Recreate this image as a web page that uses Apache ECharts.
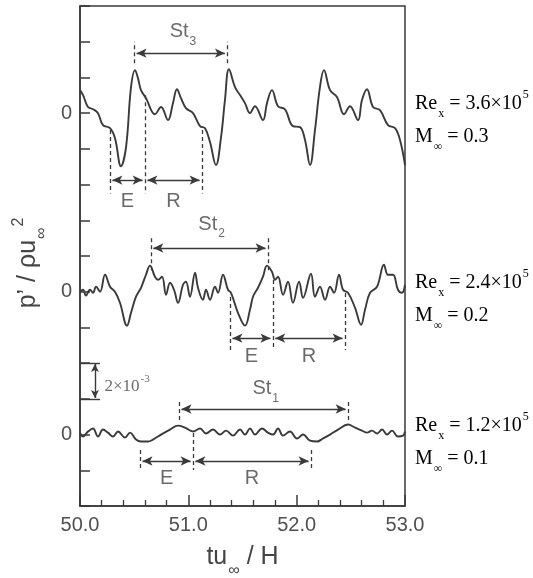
<!DOCTYPE html>
<html>
<head>
<meta charset="utf-8">
<script src="https://cdn.jsdelivr.net/npm/echarts@6/dist/echarts.min.js"></script>
<style>
html, body { margin: 0; padding: 0; background: #fff; }
#main { width: 533px; height: 578px; }
</style>
</head>
<body>
<div id="main"></div>
<script>
// time axis tu/H, pressure p'/(rho u^2) in units of 1e-3 relative to each trace's own zero
const tTop = [50.000, 50.028, 50.074, 50.120, 50.166, 50.212, 50.277, 50.323, 50.378, 50.425, 50.471, 50.508, 50.535, 50.563, 50.609, 50.692, 50.748, 50.812, 50.858, 50.895, 50.932, 50.978, 51.043, 51.108, 51.154, 51.200, 51.255, 51.302, 51.338, 51.375, 51.431, 51.477, 51.523, 51.569, 51.615, 51.689, 51.726, 51.772, 51.828, 51.892, 51.966, 52.031, 52.077, 52.123, 52.169, 52.215, 52.252, 52.308, 52.372, 52.437, 52.492, 52.566, 52.603, 52.649, 52.705, 52.769, 52.843, 52.908, 52.954, 53.000];
const pTop = [1.29, 1.01, 0.34, 0.22, 0.00, -0.67, -0.84, -1.40, -2.97, -1.90, 1.46, 2.41, 1.96, 1.29, 0.84, -0.06, 0.34, -0.39, 0.56, 1.34, 0.84, 0.28, 0.00, -0.73, -0.84, -1.62, -2.91, -1.34, 0.73, 2.46, 1.46, 1.01, 0.56, 0.00, 0.39, -0.39, 0.56, 1.29, 0.39, 0.22, -0.73, -0.78, -1.51, -2.91, -0.95, 1.46, 2.41, 1.29, 0.90, -0.06, 0.39, -0.39, 0.73, 1.34, 0.34, 0.17, -0.67, -0.84, -1.51, -2.91];

const tMid = [50.000, 50.028, 50.055, 50.092, 50.120, 50.148, 50.185, 50.231, 50.277, 50.323, 50.369, 50.434, 50.471, 50.517, 50.563, 50.609, 50.646, 50.692, 50.720, 50.757, 50.794, 50.831, 50.868, 50.905, 50.951, 50.978, 51.015, 51.062, 51.089, 51.135, 51.163, 51.200, 51.246, 51.274, 51.320, 51.366, 51.394, 51.458, 51.523, 51.569, 51.597, 51.643, 51.689, 51.726, 51.772, 51.800, 51.828, 51.874, 51.920, 51.966, 52.022, 52.059, 52.132, 52.169, 52.215, 52.262, 52.308, 52.345, 52.391, 52.428, 52.474, 52.539, 52.594, 52.631, 52.677, 52.742, 52.806, 52.843, 52.889, 52.935, 52.972, 53.000];
const pMid = [0, 0.11, -0.22, 0.11, -0.06, 0.28, 0, 0.95, 0.28, 0, -0.62, -1.90, -1.18, -0.28, 0.22, 0.95, 1.46, 0.84, 0.67, 0.84, -0.17, 0.50, 0.11, -0.62, 0.39, 0.56, -0.28, 1.06, 0.22, -0.45, 0.11, -0.45, 0.28, -0.06, 0.95, 0.11, -0.06, -1.18, -1.90, -1.01, -0.28, 0.22, 0.84, 1.46, 1.12, 0.67, 0.84, -0.17, 0.56, -0.62, 0.56, -0.34, 1.01, -0.28, 0.28, -0.45, 0.28, -0.06, 0.95, 0.11, -0.06, -0.90, -1.85, -1.01, -0.06, 0.28, 1.51, 0.95, 0.95, 0.11, -0.06, 0.39];

const tBot = [50.000, 50.028, 50.074, 50.120, 50.166, 50.212, 50.258, 50.305, 50.351, 50.415, 50.462, 50.517, 50.563, 50.628, 50.674, 50.748, 50.831, 50.905, 50.969, 51.043, 51.108, 51.163, 51.228, 51.292, 51.348, 51.412, 51.477, 51.523, 51.569, 51.615, 51.680, 51.735, 51.782, 51.828, 51.874, 51.938, 52.003, 52.059, 52.123, 52.188, 52.243, 52.308, 52.382, 52.474, 52.539, 52.603, 52.649, 52.695, 52.742, 52.788, 52.834, 52.880, 52.935, 52.982, 53.000];
const pBot = [0.11, -0.11, 0.17, 0.34, -0.11, 0.28, 0.11, -0.11, 0.17, -0.17, 0.11, -0.28, -0.39, -0.39, -0.28, 0, 0.28, 0.50, 0.39, 0.17, 0.34, 0.06, 0.28, 0, 0.22, -0.06, 0.28, 0, 0.34, 0, 0.34, 0.11, 0, 0.34, -0.06, 0.17, -0.22, 0, -0.34, -0.39, -0.22, 0, 0.28, 0.56, 0.39, 0.22, 0.11, 0.22, 0.06, 0.28, 0, 0.22, -0.11, -0.06, 0.17];

// period (St) and E / R phase limits on the time axis
const stTimes = [[50.50, 51.36], [50.655, 51.735], [50.915, 52.474]];
const erTimes = [[50.277, 50.60, 51.126], [51.385, 51.78, 52.446], [50.555, 51.043, 52.132]];
const stNames = ['3', '2', '1'];
const reLabels = ['3.6', '2.4', '1.2'];
const machLabels = ['0.3', '0.2', '0.1'];
const scaleBar = 2; // 2e-3

// layout of the stacked traces (value axis units, relative to each trace zero)
const zeros = [22, 12, 4];
const layout = [
  { stDash: [2.8, 4.0], stArrow: 3.36, stText: 4.5, erTop: [-0.95, 1.0, -0.95], erLow: -4.5, erArrow: -3.75, erText: -5.0 },
  { stDash: [1.2, 3.0], stArrow: 2.45, stText: 3.73, erTop: [-0.3, 0.65, -0.07], erLow: -3.27, erArrow: -2.6, erText: -3.7 },
  { stDash: [0.82, 1.93], stArrow: 1.43, stText: 2.5, erTop: [-0.86, 0.09, -0.86], erLow: -1.98, erArrow: -1.48, erText: -2.54 }
];

const SANS = '"Liberation Sans", Arial, sans-serif';
const SERIF = '"Liberation Serif", "Times New Roman", serif';
const INK = '#3a3a3a';
const TXT = '#454545';

function richSet(font, size) {
  const small = Math.round(size * 0.62);
  return {
    a: { fontFamily: font, fontSize: size, color: TXT, lineHeight: size + 2, padding: [5, 0, 0, 0], verticalAlign: 'top' },
    s: { fontFamily: font, fontSize: small, color: TXT, lineHeight: small + 1, padding: [Math.round(size * 0.72) + 5, 0, 0, 1], verticalAlign: 'top' },
    p: { fontFamily: font, fontSize: small, color: TXT, lineHeight: small + 1, padding: [0, 0, 0, 1], verticalAlign: 'top' },
    g: { fontSize: 10, width: 14 }
  };
}

const chart = echarts.init(document.getElementById('main'));

const dashStyle = { type: [4, 3], width: 1.3, color: INK };
const arrowStyle = { type: 'solid', width: 1.4, color: INK };

function seg(x1, y1, x2, y2, arrow) {
  const sym = arrow ? 'arrow' : 'none';
  return [
    { coord: [x1, y1], symbol: sym, symbolSize: [7, 10], lineStyle: arrow ? arrowStyle : dashStyle },
    { coord: [x2, y2], symbol: sym, symbolSize: [7, 10] }
  ];
}

const gap = 0.022;
const series = [];
const labels = [];
[[tTop, pTop], [tMid, pMid], [tBot, pBot]].forEach(function (tr, i) {
  const z = zeros[i], L = layout[i], st = stTimes[i], er = erTimes[i];
  const marks = [];
  st.forEach(function (x) { marks.push(seg(x, z + L.stDash[0], x, z + L.stDash[1], false)); });
  marks.push(seg(st[0] + gap, z + L.stArrow, st[1] - gap, z + L.stArrow, true));
  er.forEach(function (x, k) { marks.push(seg(x, z + L.erTop[k], x, z + L.erLow, false)); });
  marks.push(seg(er[0] + gap, z + L.erArrow, er[1] - gap, z + L.erArrow, true));
  marks.push(seg(er[1] + gap, z + L.erArrow, er[2] - gap, z + L.erArrow, true));

  series.push({
    type: 'line',
    data: tr[0].map(function (x, k) { return [x, tr[1][k] + z]; }),
    showSymbol: false,
    smooth: 0.4,
    lineStyle: { color: INK, width: 1.9 },
    animation: false,
    markLine: { silent: true, animation: false, label: { show: false }, data: marks }
  });

  labels.push({ value: [(st[0] + st[1]) / 2 + 0.02, z + L.stText], label: { formatter: '{m|St}{s|' + stNames[i] + '}' } });
  labels.push({ value: [(er[0] + er[1]) / 2, z + L.erText], label: { formatter: '{m|E}' } });
  labels.push({ value: [(er[1] + er[2]) / 2, z + L.erText], label: { formatter: '{m|R}' } });
});

// scale bar 2e-3
series.push({
  type: 'line',
  data: [],
  markLine: {
    silent: true, animation: false, label: { show: false },
    data: [
      [{ coord: [50, zeros[2] + 2], symbol: 'none', lineStyle: arrowStyle }, { coord: [50.185, zeros[2] + 2], symbol: 'none' }],
      [{ coord: [50, zeros[2] + 2 + scaleBar], symbol: 'none', lineStyle: arrowStyle }, { coord: [50.185, zeros[2] + 2 + scaleBar], symbol: 'none' }],
      [{ coord: [50.138, zeros[2] + 2.05], symbol: 'arrow', symbolSize: [6, 8], lineStyle: arrowStyle }, { coord: [50.138, zeros[2] + 2 + scaleBar - 0.05], symbol: 'arrow', symbolSize: [6, 8] }]
    ]
  }
});

series.push({
  type: 'scatter',
  symbolSize: 0,
  silent: true,
  animation: false,
  clip: false,
  data: labels,
  label: {
    show: true,
    position: 'inside',
    rich: {
      m: { fontFamily: SANS, fontSize: 20, color: TXT, lineHeight: 22, verticalAlign: 'top' },
      s: { fontFamily: SANS, fontSize: 12, color: TXT, lineHeight: 12, padding: [14, 0, 0, 1], verticalAlign: 'top' }
    }
  }
});

series.push({
  type: 'scatter',
  symbolSize: 0,
  silent: true,
  animation: false,
  clip: false,
  data: [[50.225, zeros[2] + 3]],
  label: {
    show: true,
    position: 'right',
    distance: 0,
    offset: [0, 2],
    formatter: '{a|2×10}{p|-3}',
    rich: richSet(SERIF, 17)
  }
});

chart.setOption({
  animation: false,
  grid: { left: 80, right: 128, top: 6, bottom: 72, containLabel: false, outerBoundsMode: 'none', show: true, borderColor: '#3a3a3a', borderWidth: 1.5 },
  xAxis: {
    type: 'value', min: 50, max: 53, interval: 1,
    axisLine: { lineStyle: { color: '#3a3a3a', width: 1.5 } },
    axisTick: { inside: true, length: 11, lineStyle: { color: '#3a3a3a', width: 1.5 } },
    minorTick: { show: true, splitNumber: 5, length: 6, lineStyle: { color: '#3a3a3a', width: 1.3 } },
    splitLine: { show: false },
    axisLabel: { margin: 9, fontFamily: SANS, fontSize: 20, color: '#505050', formatter: function (v) { return v.toFixed(1); } },
    name: '{a|tu}{s|∞}{a| / H}',
    nameLocation: 'middle',
    nameGap: 30,
    nameTextStyle: { rich: richSet(SANS, 25) }
  },
  yAxis: {
    type: 'value', min: 0, max: 28, interval: 2,
    axisLine: { lineStyle: { color: '#3a3a3a', width: 1.5 } },
    axisTick: { inside: true, length: 10, lineStyle: { color: '#3a3a3a', width: 1.5 } },
    splitLine: { show: false },
    axisLabel: { margin: 8, fontFamily: SANS, fontSize: 20, color: '#505050', formatter: function (v) { return zeros.indexOf(v) >= 0 ? '0' : ''; } },
    name: '{a|p’ / ρu}{s|∞}{p|2}{g| }',
    nameLocation: 'middle',
    nameRotate: 90,
    nameGap: 34,
    nameTextStyle: { rich: richSet(SANS, 25) }
  },
  series: series
});

// flow conditions to the right of each trace
const graphics = [];
zeros.forEach(function (z, i) {
  const pt = chart.convertToPixel({ gridIndex: 0 }, [53, z]);
  graphics.push({
    type: 'text', x: pt[0] + 10, y: pt[1] - 24, silent: true,
    style: { text: '{a|Re}{s|x}{a| = ' + reLabels[i] + '×10}{p|5}', rich: richSet(SERIF, 20) }
  });
  graphics.push({
    type: 'text', x: pt[0] + 10, y: pt[1] + 9, silent: true,
    style: { text: '{a|M}{s|∞}{a| = ' + machLabels[i] + '}', rich: richSet(SERIF, 20) }
  });
});
chart.setOption({ graphic: graphics });
</script>
</body>
</html>
